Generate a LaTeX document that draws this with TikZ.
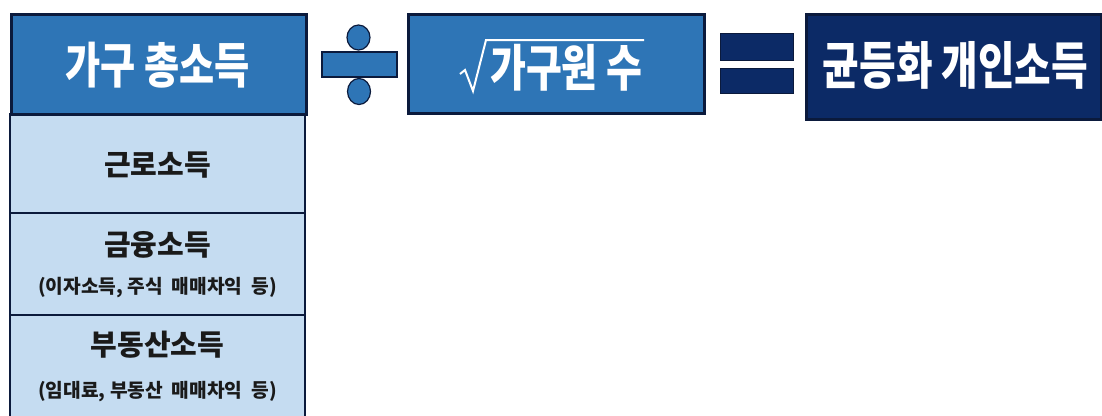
\documentclass[tikz,border=0pt]{standalone}
\usepackage{fontspec}
\newfontfamily\krbig[FakeStretch=0.78]{Noto Sans CJK KR}
\newfontfamily\krsub{Noto Sans CJK KR}
\definecolor{midblue}{HTML}{2E75B6}
\definecolor{navy}{HTML}{0C2A66}
\definecolor{lightblue}{HTML}{C5DCF1}
\definecolor{edge}{HTML}{0B1A3C}
\definecolor{rowtext}{HTML}{1A1A1A}
\tikzset{
  px/.style={x=1pt,y=-1pt},
  bigtext/.style={text=white,font=\krbig\bfseries\fontsize{49}{54}\selectfont,inner sep=0pt},
  rowtitle/.style={text=rowtext,font=\krsub\bfseries\fontsize{29}{32}\selectfont,inner sep=0pt},
  rowsub/.style={text=rowtext,font=\krsub\bfseries\fontsize{19.2}{22}\selectfont,inner sep=0pt},
  boxedge/.style={draw=edge,line width=2.5pt},
  thinedge/.style={draw=edge,line width=1.5pt}
}
\begin{document}
\begin{tikzpicture}[px]
\useasboundingbox (0,0) rectangle (1102,415);
% left column
\fill[lightblue] (10,113) rectangle (305,418);
\draw[thinedge] (10,213) -- (305,213);
\draw[thinedge] (10,315) -- (305,315);
\draw[boxedge] (10,113) -- (10,418);
\draw[boxedge] (305,113) -- (305,418);
\node[boxedge,fill=midblue,minimum width=295pt,minimum height=100pt,anchor=north west,inner sep=0pt] (hdr) at (10,13) {};
\node[bigtext] (hdrt) at (157.5,65) {가구 총소득};
\node[rowtitle] (r1) at (157.5,165) {근로소득};
\node[rowtitle] (r2) at (157.5,245) {금융소득};
\node[rowsub] (r2s) at (157.5,288) {(이자소득, 주식\ \ 매매차익\ \ 등)};
\node[rowtitle] (r3) at (157.5,345) {부동산소득};
\node[rowsub] (r3s) at (157.5,392) {(임대료, 부동산\ \ 매매차익\ \ 등)};
% divide sign
\draw[thinedge,line width=1.2pt,fill=midblue] (322,52) rectangle (397,77);
\draw[thinedge,line width=1.2pt,fill=midblue] (358.5,37.5) ellipse (11.5pt and 12.5pt);
\draw[thinedge,line width=1.2pt,fill=midblue] (359,91.5) ellipse (11.5pt and 13pt);
% sqrt box
\node[boxedge,fill=midblue,minimum width=296pt,minimum height=99pt,anchor=north west,inner sep=0pt] (sq) at (407,13) {};
\draw[white,line width=2pt,line join=miter] (460,74) -- (465,70) -- (473,91) -- (486,40) -- (644,40);
\node[bigtext,font=\krbig\bfseries\fontsize{50}{55}\selectfont,anchor=west] (sqt) at (490,68) {가구원 수};
% equals sign
\draw[thinedge,fill=navy,line width=1pt] (720,33) rectangle (793,60);
\draw[thinedge,fill=navy,line width=1pt] (720,68) rectangle (793,93);
% result box
\node[boxedge,fill=navy,minimum width=295pt,minimum height=105pt,anchor=north west,inner sep=0pt] (res) at (805,13) {};
\node[bigtext,font=\krbig\bfseries\fontsize{51}{56}\selectfont] (rest) at (955.5,65) {균등화 개인소득};
\end{tikzpicture}
\end{document}
